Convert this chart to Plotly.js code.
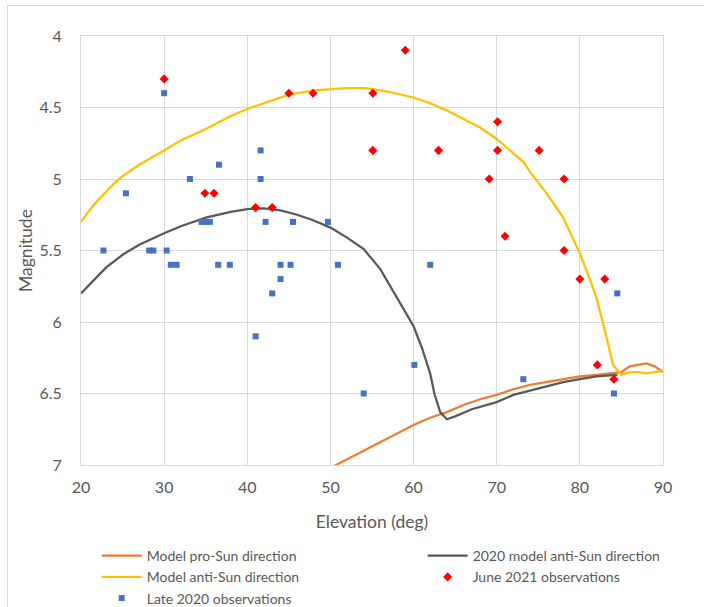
<!DOCTYPE html>
<html>
<head>
<meta charset="utf-8">
<script src="https://cdn.plot.ly/plotly-3.0.1.min.js"></script>
<style>
html,body{margin:0;padding:0;background:#fff;overflow:hidden;}
#wrap{position:relative;width:704px;height:607px;overflow:hidden;}
#chart{position:absolute;left:0;top:0;width:704px;height:607px;}
#frame{position:absolute;left:7px;top:5px;width:720px;height:640px;border:1px solid #d9d9d9;pointer-events:none;}
</style>
</head>
<body>
<div id="wrap">
<div id="chart"></div>
<div id="frame"></div>
</div>
<script>
// Model pro-Sun direction
const proSunX = [50, 52, 54, 56, 58, 60, 62, 64, 66, 68, 70, 72, 74, 76, 78, 80, 82, 84, 85, 86, 87, 88, 89, 90];
const proSunY = [7.02, 6.96, 6.90, 6.84, 6.78, 6.72, 6.67, 6.63, 6.58, 6.54, 6.51, 6.47, 6.44, 6.42, 6.40, 6.38, 6.37, 6.36, 6.35, 6.31, 6.30, 6.29, 6.31, 6.35];

// 2020 model anti-Sun direction
const model2020X = [20, 21, 22, 23, 25, 27, 30, 32, 35, 38, 40, 42, 44, 46, 48, 50, 52, 54, 56, 58, 60, 61, 62, 62.5, 63.2, 64, 65, 67, 70, 72, 74, 76, 78, 80, 82, 84.5];
const model2020Y = [5.80, 5.74, 5.68, 5.62, 5.53, 5.46, 5.38, 5.33, 5.27, 5.23, 5.21, 5.205, 5.22, 5.25, 5.29, 5.34, 5.41, 5.49, 5.63, 5.83, 6.03, 6.18, 6.36, 6.50, 6.63, 6.68, 6.66, 6.61, 6.56, 6.51, 6.48, 6.45, 6.42, 6.40, 6.38, 6.37];

// Model anti-Sun direction
const antiSunX = [20, 21, 22, 23, 24, 25, 27, 30, 32, 35, 38, 40, 42, 45, 48, 50, 52, 54, 55, 57, 60, 62, 64, 66, 68, 70, 72, 73.2, 74, 76, 78, 79, 80, 81, 82, 83, 84, 85, 86, 87, 88, 89, 90];
const antiSunY = [5.30, 5.22, 5.15, 5.09, 5.03, 4.98, 4.90, 4.80, 4.73, 4.65, 4.56, 4.51, 4.47, 4.41, 4.38, 4.37, 4.365, 4.365, 4.37, 4.39, 4.43, 4.47, 4.52, 4.58, 4.64, 4.72, 4.82, 4.88, 4.95, 5.10, 5.27, 5.40, 5.52, 5.67, 5.83, 6.06, 6.30, 6.37, 6.35, 6.35, 6.36, 6.35, 6.34];

// June 2021 observations
const june2021X = [30, 34.9, 36.0, 41.0, 43.0, 45.0, 47.9, 59.0, 55.1, 55.1, 63.0, 70.1, 70.1, 75.1, 69.1, 78.1, 71.0, 78.1, 80.0, 83.0, 82.1, 84.1];
const june2021Y = [4.3, 5.1, 5.1, 5.2, 5.2, 4.4, 4.4, 4.1, 4.4, 4.8, 4.8, 4.6, 4.8, 4.8, 5.0, 5.0, 5.4, 5.5, 5.7, 5.7, 6.3, 6.4];

// Late 2020 observations
const late2020X = [30.0, 25.4, 22.7, 28.2, 28.7, 30.3, 30.8, 31.5, 33.1, 34.5, 35.0, 35.5, 36.6, 36.5, 37.9, 41.6, 41.6, 42.2, 44.0, 45.2, 45.5, 49.7, 50.9, 44.0, 43.0, 41.0, 62.0, 60.1, 54.0, 73.2, 84.5, 84.1];
const late2020Y = [4.4, 5.1, 5.5, 5.5, 5.5, 5.5, 5.6, 5.6, 5.0, 5.3, 5.3, 5.3, 4.9, 5.6, 5.6, 4.8, 5.0, 5.3, 5.6, 5.6, 5.3, 5.3, 5.6, 5.7, 5.8, 6.1, 5.6, 6.3, 6.5, 6.4, 5.8, 6.5];

const FONT = 'Lato, "Open Sans", sans-serif';
const TXT = '#595959';
const GRID = '#d9d9d9';

const traces = [
  {x: proSunX, y: proSunY, type: 'scatter', mode: 'lines', name: 'Model pro-Sun direction',
   line: {color: '#ED7D31', width: 2.25}, legend: 'legend', legendgroup: 'a'},
  {x: model2020X, y: model2020Y, type: 'scatter', mode: 'lines', name: '2020 model anti-Sun direction',
   line: {color: '#595959', width: 2.25}, legend: 'legend2', legendgroup: 'b'},
  {x: antiSunX, y: antiSunY, type: 'scatter', mode: 'lines', name: 'Model anti-Sun direction',
   line: {color: '#FFC000', width: 2.25}, legend: 'legend', legendgroup: 'c'},
  {x: june2021X, y: june2021Y, type: 'scatter', mode: 'markers', name: 'June 2021 observations',
   marker: {symbol: 'diamond', color: '#FF0000', size: 7}, legend: 'legend2', legendgroup: 'd'},
  {x: late2020X, y: late2020Y, type: 'scatter', mode: 'markers', name: 'Late 2020 observations',
   marker: {symbol: 'square', color: '#4472C4', size: 6}, legend: 'legend', legendgroup: 'e'}
];

const legendBase = {
  orientation: 'v', yanchor: 'top', xanchor: 'left', y: -0.175,
  font: {family: FONT, size: 14, color: TXT}, bgcolor: 'rgba(0,0,0,0)',
  tracegroupgap: 0, itemsizing: 'trace', itemwidth: 40
};

const layout = {
  width: 704, height: 607,
  margin: {l: 81, r: 41, t: 36, b: 142, autoexpand: false},
  paper_bgcolor: '#fff', plot_bgcolor: '#fff',
  font: {family: FONT, color: TXT},
  showlegend: true,
  xaxis: {
    range: [20, 90], dtick: 10, tick0: 20,
    showgrid: true, gridcolor: GRID, gridwidth: 1,
    showline: true, linecolor: GRID, linewidth: 1, mirror: true,
    zeroline: false, ticks: '',
    tickfont: {family: FONT, size: 16, color: TXT},
    ticklabelstandoff: 8,
    title: {text: 'Elevation (deg)', font: {family: FONT, size: 17.5, color: TXT}, standoff: 20}
  },
  yaxis: {
    range: [7, 4], dtick: 0.5, tick0: 4,
    showgrid: true, gridcolor: GRID, gridwidth: 1,
    showline: true, linecolor: GRID, linewidth: 1, mirror: true,
    zeroline: false, ticks: '',
    tickfont: {family: FONT, size: 16, color: TXT},
    ticklabelstandoff: 15,
    title: {text: 'Magnitude', font: {family: FONT, size: 17.5, color: TXT}, standoff: 2}
  },
  legend: Object.assign({}, legendBase, {x: 0.027}),
  legend2: Object.assign({}, legendBase, {x: 0.587})
};

Plotly.newPlot('chart', traces, layout, {displayModeBar: false, staticPlot: true});
</script>
</body>
</html>
